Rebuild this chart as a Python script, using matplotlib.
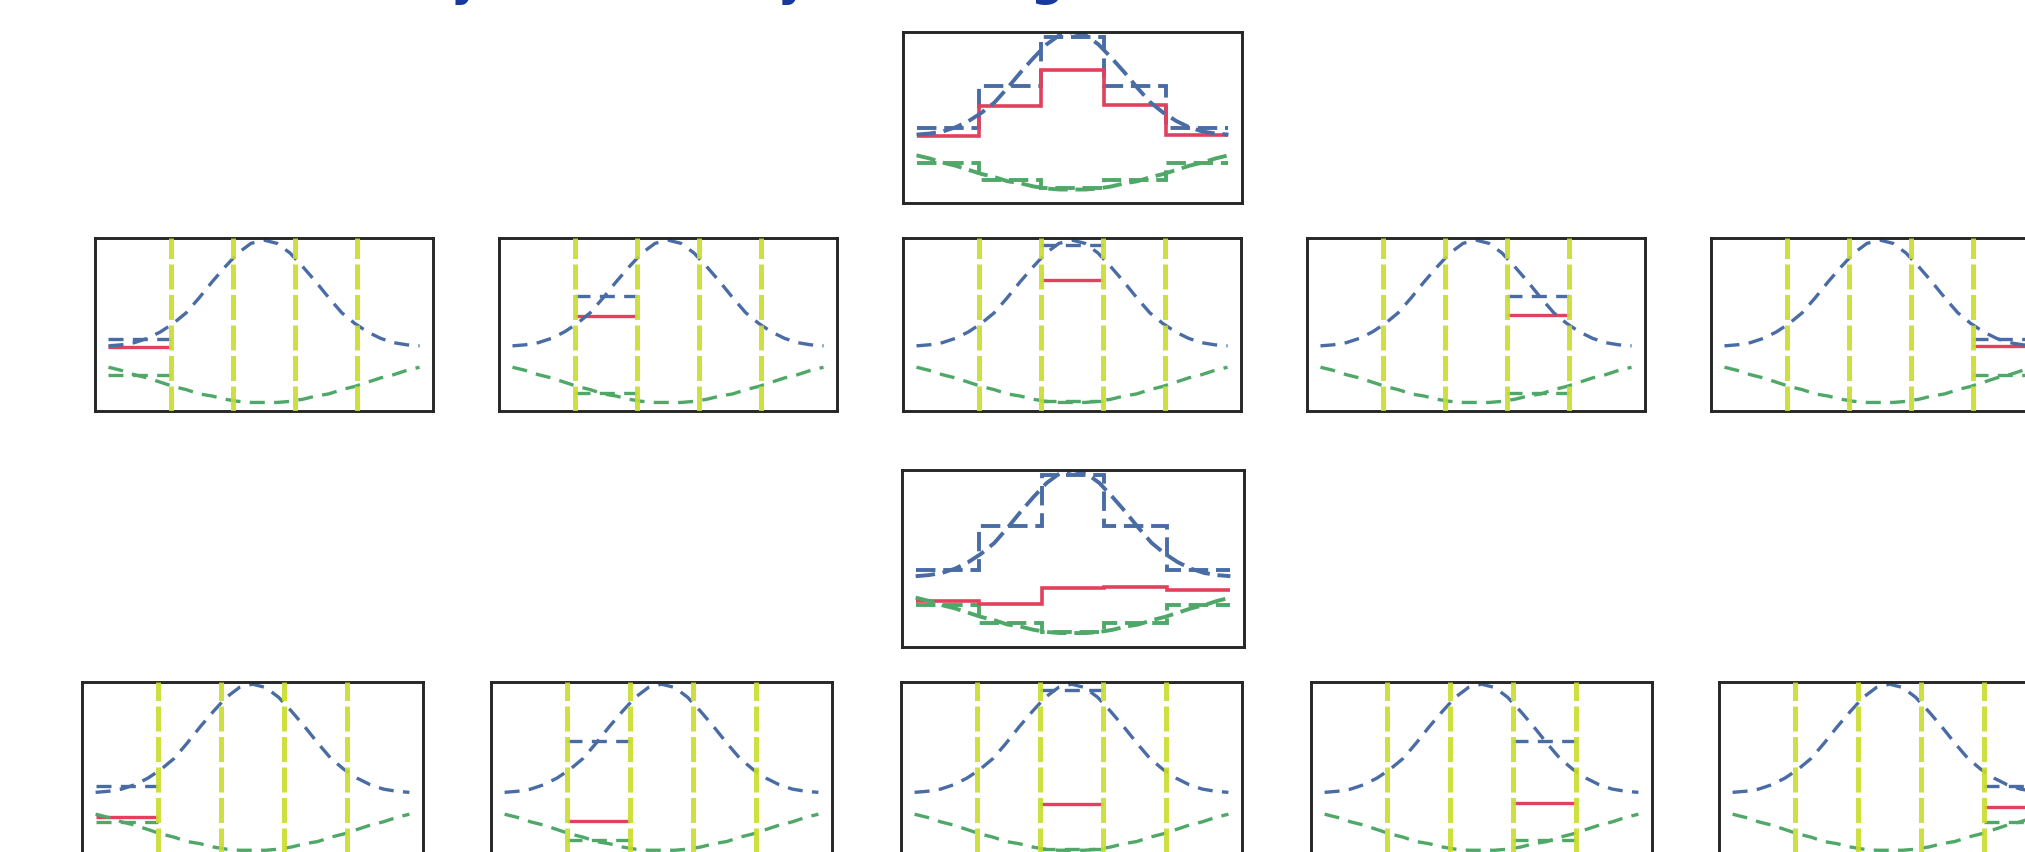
import numpy as np
import matplotlib.pyplot as plt

W, H = 2025, 852

# curves (blue bell, green bowl)
xs = [-3.0, -2.75, -2.5, -2.25, -2.0, -1.75, -1.5, -1.25, -1.0, -0.75, -0.5, -0.25, 0.0,
      0.25, 0.5, 0.75, 1.0, 1.25, 1.5, 1.75, 2.0, 2.25, 2.5, 2.75, 3.0]
bell = [0.01, 0.02, 0.04, 0.08, 0.14, 0.22, 0.32, 0.46, 0.61, 0.75, 0.88, 0.97, 1.00,
        0.97, 0.88, 0.75, 0.61, 0.46, 0.32, 0.22, 0.14, 0.08, 0.04, 0.02, 0.01]
bowl = [-0.19, -0.22, -0.26, -0.29, -0.33, -0.37, -0.40, -0.44, -0.46, -0.49, -0.51, -0.52, -0.52,
        -0.52, -0.51, -0.49, -0.46, -0.44, -0.40, -0.37, -0.33, -0.29, -0.26, -0.22, -0.19]

# bins and per-bin levels
edges = [-3.0, -1.8, -0.6, 0.6, 1.8, 3.0]
bell_bins = [0.07, 0.48, 0.95, 0.48, 0.07]
bowl_bins = [-0.26, -0.43, -0.51, -0.43, -0.26]
red_row1 = [0.0, 0.29, 0.63, 0.30, 0.01]
red_row2 = [-0.22, -0.25, -0.10, -0.09, -0.12]

title = "Density estimate by summing bins"

BLUE = "#4a6ca5"
GREEN = "#4fa867"
RED = "#e2405c"
LIME = "#c9dc2c"
FRAME = "#262626"


def px_axes(fig, left, top, w, h):
    return fig.add_axes([left / W, 1 - (top + h) / H, w / W, h / H])


def frame(ax, ylim):
    ax.set_xlim(-3.26, 3.26)
    ax.set_ylim(*ylim)
    ax.set_xticks([])
    ax.set_yticks([])
    for s in ax.spines.values():
        s.set_linewidth(2.1)
        s.set_color(FRAME)


def curves(ax, lw, dash):
    ax.plot(xs, bell, color=BLUE, lw=lw, dashes=dash)
    ax.plot(xs, bowl, color=GREEN, lw=lw, dashes=dash)


def big_panel(ax, red):
    frame(ax, (-0.65, 1.0))
    curves(ax, 2.8, (5, 2))
    ax.stairs(bell_bins, edges, baseline=None, color=BLUE, lw=2.8, ls=(0, (5, 2)))
    ax.stairs(bowl_bins, edges, baseline=None, color=GREEN, lw=2.8, ls=(0, (5, 2)))
    ax.stairs(red, edges, baseline=None, color=RED, lw=2.6)


def small_panel(ax, i, red):
    frame(ax, (-0.6, 1.02))
    curves(ax, 2.4, (4.5, 2.8))
    e = edges[i:i + 2]
    ax.stairs([bell_bins[i]], e, baseline=None, color=BLUE, lw=2.4, ls=(0, (4.5, 2.8)))
    ax.stairs([bowl_bins[i]], e, baseline=None, color=GREEN, lw=2.4, ls=(0, (4.5, 2.8)))
    ax.stairs([red[i]], e, baseline=None, color=RED, lw=2.4)
    for xe in edges[1:-1]:
        ax.axvline(xe, color=LIME, lw=3.6, dashes=(5, 1.1), alpha=0.9, zorder=3)


fig = plt.figure(figsize=(W / 100, H / 100), dpi=100)

fig.text(282 / W, 1 + 5 / H, title, color="#17399b", fontsize=33.5,
         fontweight="bold", ha="left", va="baseline")

# top block
big_panel(px_axes(fig, 903, 32, 339, 171), red_row1)
for i, left in enumerate([95, 499, 903, 1307, 1711]):
    small_panel(px_axes(fig, left, 238, 338, 173), i, red_row1)

# bottom block
big_panel(px_axes(fig, 902, 470, 342, 177), red_row2)
for i, left in enumerate([82, 491, 901, 1311, 1719]):
    small_panel(px_axes(fig, left, 682, 341, 177), i, red_row2)

fig.savefig("out.png", dpi=100)
